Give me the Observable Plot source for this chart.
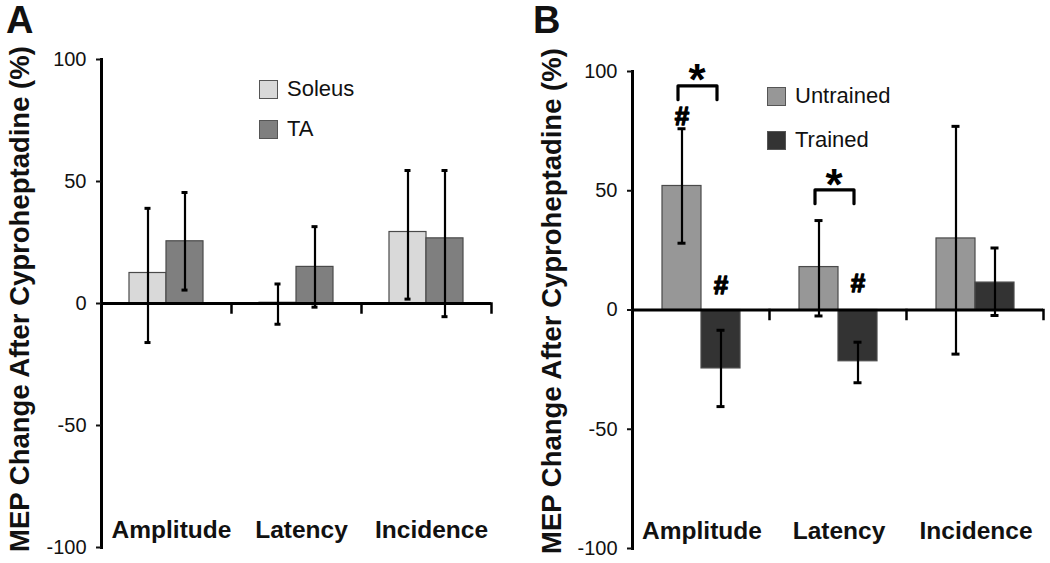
<!DOCTYPE html>
<html><head><meta charset="utf-8">
<script src="https://cdn.jsdelivr.net/npm/d3@7"></script>
<script src="https://cdn.jsdelivr.net/npm/@observablehq/plot@0.6"></script>
<style>
body{margin:0;background:#fff;font-family:"Liberation Sans",Arial,sans-serif;}
#wrap{position:relative;width:1050px;height:563px;overflow:hidden;background:#fff}
.panel{position:absolute;top:0}
.plabel{position:absolute;font-weight:bold;font-size:38px;line-height:1;color:#111}
.leg{position:absolute;display:flex;align-items:center;font-size:22px;color:#111;height:20px;white-space:nowrap}
.sw{box-sizing:border-box;width:19px;height:19px;border:1.5px solid #555;margin-right:9px}
</style></head><body><div id="wrap"></div>
<script>
// ---------- data ----------
const categories = ["Amplitude", "Latency", "Incidence"];
const yTicks = [-100, -50, 0, 50, 100];
const yTitle = "MEP Change After Cyproheptadine (%)";

// Panel A
const seriesA = ["Soleus", "TA"];
const colorsA = ["#d9d9d9", "#7f7f7f"];
const soleusMean = [12.5, 0.3, 29.3];
const soleusLow = [-16, -8.5, 1.8];
const soleusHigh = [39, 8, 54.5];
const taMean = [25.5, 15, 26.7];
const taLow = [5.5, -1.5, -5.4];
const taHigh = [45.5, 31.5, 54.5];

// Panel B
const seriesB = ["Untrained", "Trained"];
const colorsB = ["#979797", "#333333"];
const untrainedMean = [52, 18, 30];
const untrainedLow = [28, -2.5, -18.5];
const untrainedHigh = [76, 37.5, 77];
const trainedMean = [-24.5, -21.5, 11.5];
const trainedLow = [-40.5, -30.5, -2.3];
const trainedHigh = [-8.5, -13.5, 26];

// Significance annotations (panel B)
const hashCategory = ["Amplitude", "Amplitude", "Latency"];
const hashSeries = ["Untrained", "Trained", "Trained"];
const hashY = [81, 10.3, 11.2];
const starCategory = ["Amplitude", "Latency"];
const bracketTop = [94, 50.4];
const bracketLeg = [88.2, 44.6];
const starY = [100.5, 56.5];

// ---------- helpers ----------
function makeRows(series, means, lows, highs) {
  const out = [];
  series.forEach((s, j) => categories.forEach((c, i) => out.push({
    category: c, series: s, mean: means[j][i], low: lows[j][i], high: highs[j][i]
  })));
  return out;
}
const rowsA = makeRows(seriesA, [soleusMean, taMean], [soleusLow, taLow], [soleusHigh, taHigh]);
const rowsB = makeRows(seriesB, [untrainedMean, trainedMean], [untrainedLow, trainedLow], [untrainedHigh, trainedHigh]);

const hashRows = hashCategory.map((c, i) => ({category: c, series: hashSeries[i], y: hashY[i]}));
const bracketPts = [];
starCategory.forEach((c, i) => {
  bracketPts.push({category: c, series: seriesB[0], y: bracketLeg[i]});
  bracketPts.push({category: c, series: seriesB[0], y: bracketTop[i]});
  bracketPts.push({category: c, series: seriesB[1], y: bracketTop[i]});
  bracketPts.push({category: c, series: seriesB[1], y: bracketLeg[i]});
});
const starRows = starCategory.map((c, i) => ({category: c, series: seriesB[0], y: starY[i]}));

const FONT = '"Liberation Sans", Arial, sans-serif';
const yDomain = [yTicks[0], yTicks[yTicks.length - 1]];

function panel(o) {
  const yRange = [o.height - o.mb, o.mt];
  const y0 = d3.scaleLinear().domain(yDomain).range(yRange)(0);
  const plotBottom = o.height - o.mb;
  const capInset = 15.5;
  const svg = Plot.plot({
    width: o.width, height: o.height,
    marginTop: o.mt, marginBottom: o.mb, marginLeft: o.ml, marginRight: o.mr,
    style: {fontFamily: FONT, color: "#111", background: "transparent", overflow: "visible"},
    fx: {domain: categories, padding: 0, axis: null},
    x: {domain: o.series, paddingInner: 0, paddingOuter: o.pad, axis: null},
    y: {domain: yDomain},
    color: {domain: o.series, range: o.colors},
    marks: [
      Plot.barY(o.rows, {fx: "category", x: "series", y: "mean", fill: "series", stroke: "#4a4a4a", strokeWidth: 1.2}),
      Plot.ruleY([0], {stroke: "#000", strokeWidth: 3}),
      Plot.frame({anchor: "left", facetAnchor: "left", stroke: "#000", strokeWidth: 3}),
      Plot.frame({anchor: "right", stroke: "#000", strokeWidth: 2.5, insetTop: y0 - o.mt, insetBottom: plotBottom - y0 - 9}),
      Plot.ruleX(o.rows, {fx: "category", x: "series", y1: "low", y2: "high", stroke: "#000", strokeWidth: 2.2}),
      Plot.tickY(o.rows, {fx: "category", x: "series", y: "low", stroke: "#000", strokeWidth: 3, insetLeft: capInset, insetRight: capInset}),
      Plot.tickY(o.rows, {fx: "category", x: "series", y: "high", stroke: "#000", strokeWidth: 3, insetLeft: capInset, insetRight: capInset}),
      Plot.axisY({ticks: yTicks, tickSize: 5, tickPadding: 10, fontSize: 20, label: null, strokeWidth: 2, tickFormat: d => String(d)}),
      Plot.text(categories, {fx: d => d, text: d => d, frameAnchor: "bottom", dy: -17, dx: o.labelDx, fontSize: 24.5, fontWeight: "bold", lineAnchor: "middle", fill: "#111"}),
      ...(o.extra || [])
    ]
  });
  d3.select(svg).append("text")
    .attr("transform", `translate(${o.titleX},${o.titleY}) rotate(-90)`)
    .attr("text-anchor", "middle")
    .attr("font-family", FONT)
    .attr("font-weight", "bold")
    .attr("font-size", 27.5)
    .attr("fill", "#111")
    .text(yTitle);
  return svg;
}

const wrap = document.getElementById("wrap");

function addPanel(left, svg, label, labelLeft, legendItems) {
  const div = document.createElement("div");
  div.className = "panel";
  div.style.left = left + "px";
  div.appendChild(svg);
  wrap.appendChild(div);
  const pl = document.createElement("div");
  pl.className = "plabel";
  pl.style.left = labelLeft + "px";
  pl.style.top = "1px";
  pl.textContent = label;
  wrap.appendChild(pl);
  legendItems.forEach(it => {
    const lg = document.createElement("div");
    lg.className = "leg";
    lg.style.left = it.x + "px";
    lg.style.top = it.y + "px";
    const sw = document.createElement("div");
    sw.className = "sw";
    sw.style.background = it.color;
    lg.appendChild(sw);
    const tx = document.createElement("span");
    tx.textContent = it.name;
    lg.appendChild(tx);
    wrap.appendChild(lg);
  });
}

const svgA = panel({
  rows: rowsA, series: seriesA, colors: colorsA,
  width: 520, height: 563, mt: 59, mb: 16, ml: 100, mr: 29, pad: 0.73,
  labelDx: 5, titleX: 29, titleY: 299
});
addPanel(0, svgA, "A", 6, [
  {name: seriesA[0], color: colorsA[0], x: 259, y: 79},
  {name: seriesA[1], color: colorsA[1], x: 259, y: 119}
]);

const svgB = panel({
  rows: rowsB, series: seriesB, colors: colorsB,
  width: 530, height: 563, mt: 71, mb: 15, ml: 111, mr: 7, pad: 0.74,
  labelDx: 1, titleX: 41, titleY: 301,
  extra: [
    Plot.line(bracketPts, {fx: "category", x: "series", y: "y", z: "category", stroke: "#000", strokeWidth: 3.2, dx: -4}),
    Plot.text(hashRows, {fx: "category", x: "series", y: "y", text: () => "#", fontSize: 26, fontWeight: "bold", fill: "#000", stroke: "#000", strokeWidth: 1.3}),
    Plot.text(starRows, {fx: "category", x: "series", y: "y", text: () => "*", fontSize: 44, fontWeight: "bold", fill: "#000", dx: 15, dy: 11})
  ]
});
addPanel(520, svgB, "B", 533, [
  {name: seriesB[0], color: colorsB[0], x: 767, y: 86},
  {name: seriesB[1], color: colorsB[1], x: 767, y: 130}
]);
</script></body></html>
